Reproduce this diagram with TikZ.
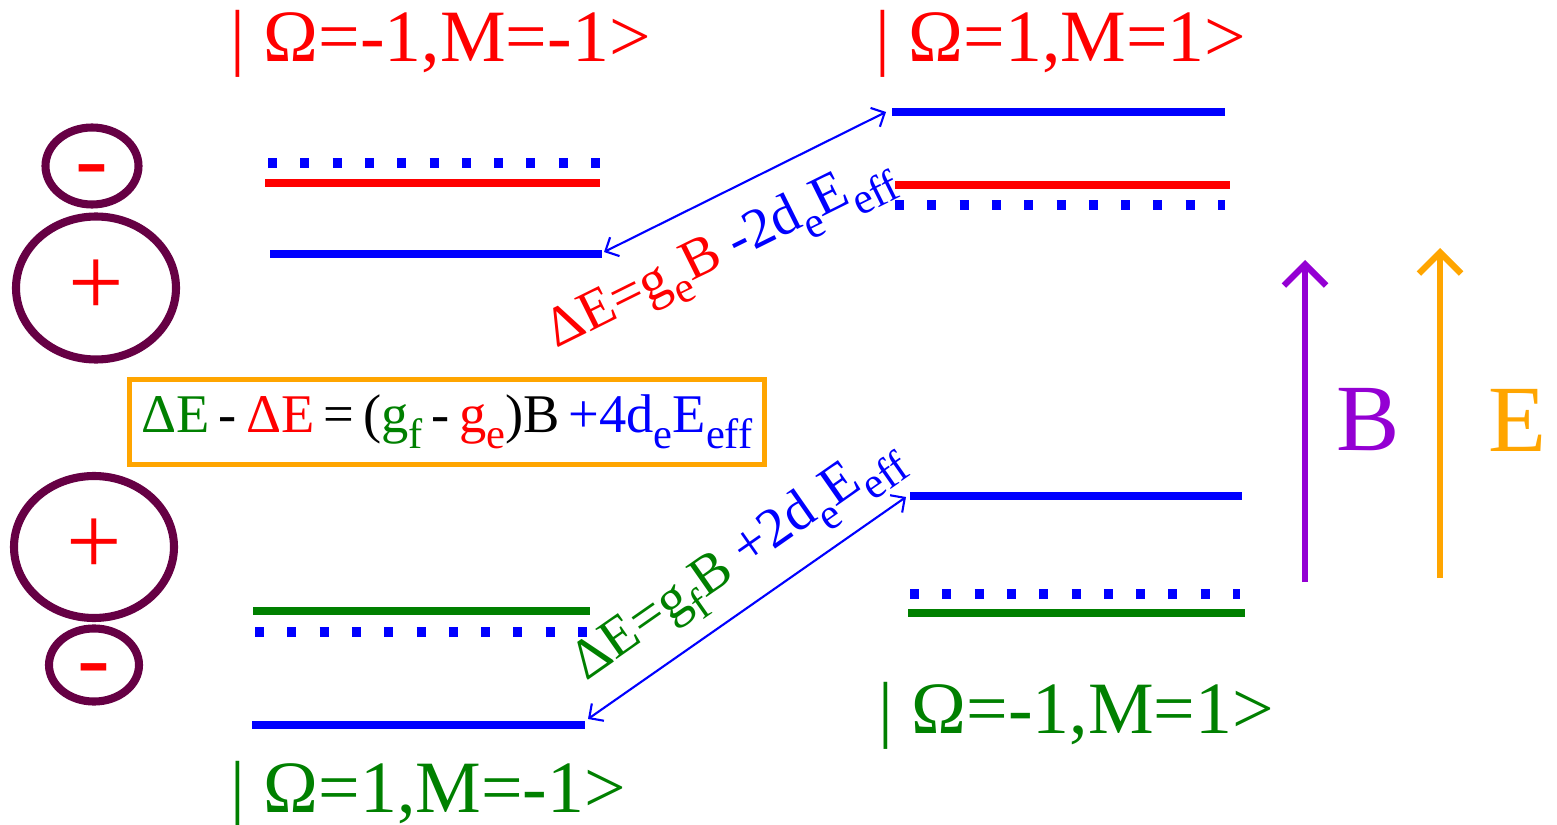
\documentclass[tikz,border=0pt]{standalone}
\usepackage{fontspec}
\setmainfont{Liberation Serif}
\usetikzlibrary{arrows.meta,shapes.geometric}

\definecolor{paritycol}{RGB}{102,0,68}
\definecolor{fieldB}{RGB}{148,0,211}
\definecolor{fieldE}{RGB}{255,165,0}
\definecolor{dkgreen}{RGB}{0,128,0}
\newcommand\subtxt[1]{\raisebox{-0.3em}{\scalebox{0.78}{#1}}}

\begin{document}
\begin{tikzpicture}
                    [
                        x=0.1mm, y=-0.1mm,
                        lev/.style={line width=2.2pt},
                        dotlev/.style={line width=2.6pt, blue, dash pattern=on 0.9mm off 2.33mm},
                        ket/.style={font=\fontsize{21}{24}\selectfont, anchor=base west, inner sep=0pt},
                        parity/.style={draw=paritycol, ellipse, line width=2.3pt, text=red, inner sep=0pt, font=\fontsize{28}{30}\selectfont},
                        minus/.style={parity, text height=14.7pt, text depth=0pt},
                        trans/.style={blue, line width=0.6pt, {Straight Barb[length=3pt,width=6pt]}-{Straight Barb[length=3pt,width=6pt]}},
                        lbl/.style={font=\fontsize{16}{18}\selectfont, sloped, inner sep=1pt},
                        field/.style={line width=1.8pt, -{Straight Barb[length=6pt,width=12pt]}}
                    ]

                    % Rahmen
                    \useasboundingbox (0,0) rectangle (1557,825);

                    % Zustaende
                    \node[ket, red] (ketTL) at (230,62) {| Ω=-1,M=-1>};
                    \node[ket, red] (ketTR) at (875,62) {| Ω=1,M=1>};
                    \node[ket, dkgreen] (ketBR) at (878,733) {| Ω=-1,M=1>};
                    \node[ket, dkgreen] (ketBL) at (230,812) {| Ω=1,M=-1>};

                    % Paritaet
                    \node[minus, minimum width=0.93cm, minimum height=0.77cm] (minusT) at (92,166) {-};
                    \node[parity, minimum width=1.6cm, minimum height=1.43cm] (plusT) at (96,288) {+};
                    \node[parity, minimum width=1.6cm, minimum height=1.42cm] (plusB) at (94,547) {+};
                    \node[minus, minimum width=0.9cm, minimum height=0.67cm] (minusB) at (94,665) {-};

                    % Niveaus oben
                    \draw[dotlev] (268,163) -- (600,163);
                    \draw[lev, red] (265,183) -- (600,183);
                    \draw[lev, blue] (270,254) -- (602,254);
                    \draw[lev, blue] (892,112) -- (1225,112);
                    \draw[lev, red] (895,185) -- (1230,185);
                    \draw[dotlev] (895,205) -- (1225,205);

                    % Niveaus unten
                    \draw[lev, dkgreen] (253,611) -- (590,611);
                    \draw[dotlev] (255,632) -- (590,632);
                    \draw[lev, blue] (252,725) -- (585,725);
                    \draw[lev, blue] (910,496) -- (1242,496);
                    \draw[dotlev] (910,594) -- (1240,594);
                    \draw[lev, dkgreen] (908,613) -- (1245,613);

                    % Uebergaenge
                    \coordinate (aTL) at (604,252);
                    \coordinate (aTR) at (886,112);
                    \coordinate (aBL) at (588,719);
                    \coordinate (aBR) at (906,497);
                    \draw[trans] (aTL) -- (aTR)
                        node[lbl, pos=0.33, below=2.2mm] {\color{red}ΔE=g\subtxt{e}B \color{blue}-2d\subtxt{e}E\subtxt{eff}};
                    \draw[trans] (aBL) -- (aBR)
                        node[lbl, pos=0.55, above=1mm] {\color{dkgreen}ΔE=g\subtxt{f}B \color{blue}+2d\subtxt{e}E\subtxt{eff}};

                    % Differenz
                    \node[draw=fieldE, line width=1.2pt, minimum width=6.35cm, minimum height=0.85cm, inner sep=0pt, font=\fontsize{15.5}{18}\selectfont] (diff) at (447,422)
                        {{\color{dkgreen}ΔE}\,-\,{\color{red}ΔE}\,=\,({\color{dkgreen}g\subtxt{f}}\,-\,{\color{red}g\subtxt{e}})B\,{\color{blue}+4d\subtxt{e}E\subtxt{eff}}};

                    % Felder
                    \coordinate (Bfoot) at (1305,582);
                    \coordinate (Btip) at (1305,260);
                    \coordinate (Efoot) at (1440,578);
                    \coordinate (Etip) at (1440,248);
                    \draw[field, fieldB] (Bfoot) -- (Btip);
                    \draw[field, fieldE] (Efoot) -- (Etip);
                    \node[text=fieldB, font=\fontsize{27}{30}\selectfont] (Blbl) at (1368,420) {B};
                    \node[text=fieldE, font=\fontsize{27}{30}\selectfont] (Elbl) at (1517,420) {E};
                \end{tikzpicture}
\end{document}
